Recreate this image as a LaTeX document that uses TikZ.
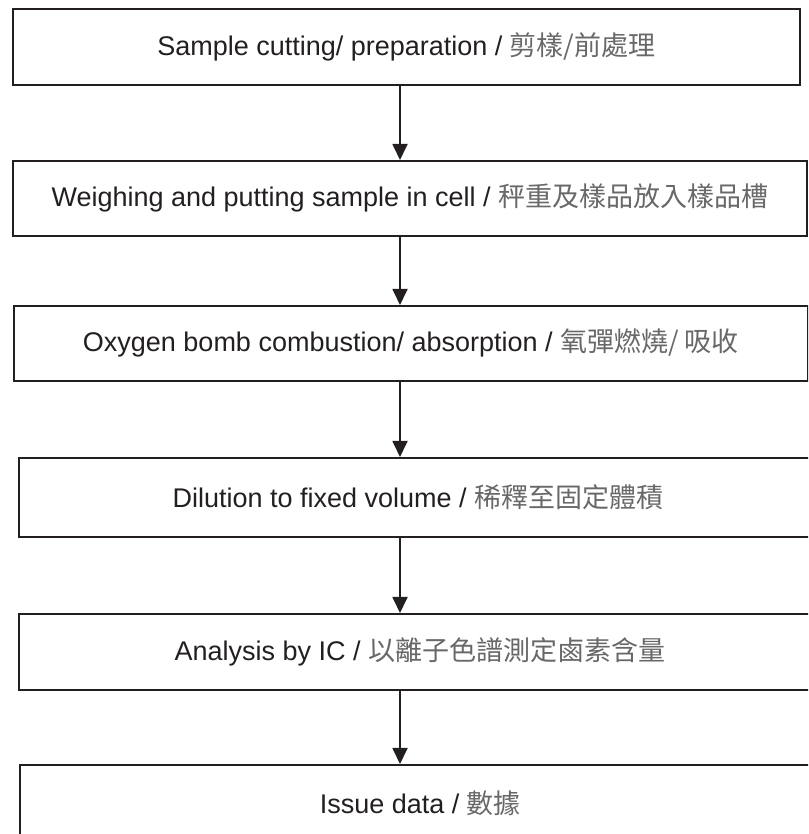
\documentclass[tikz,border=0pt]{standalone}
\usepackage{fontspec}
\setmainfont{Liberation Sans}
\newfontfamily\cjk{Noto Sans CJK TC}
\usetikzlibrary{arrows.meta,positioning}
\definecolor{inkline}{HTML}{231F20}
\colorlet{cjktext}{inkline!68}
\newcommand\twtext[1]{{\cjk\color{cjktext}#1}}

\begin{document}
\begin{tikzpicture}[
  x=1pt,y=1pt,
  stepbox/.style={
    draw=inkline,
    line width=1.8pt,
    inner sep=0,
    anchor=north west,
    minimum height=76pt,
    text=inkline,
    font=\fontsize{27}{32}\selectfont
  },
  flow/.style={draw=inkline,line width=1.8pt,-{Triangle[length=16pt,width=15pt]}}
]
\path[use as bounding box,clip] (0,0) rectangle (808,834);

\node[stepbox,minimum width=787pt] (cut) at (12,826)
  {Sample cutting/ preparation / \twtext{剪樣/前處理}};
\node[stepbox,minimum width=794pt,minimum height=75pt] (weigh) at (12,674)
  {Weighing and putting sample in cell / \twtext{秤重及樣品放入樣品槽}};
\node[stepbox,minimum width=794pt,minimum height=75pt] (bomb) at (13,529)
  {Oxygen bomb combustion/ absorption / \twtext{氧彈燃燒/ 吸收}};
\node[stepbox,minimum width=798pt,minimum height=79pt] (dilute) at (18,377)
  {Dilution to fixed volume / \twtext{稀釋至固定體積}};
\node[stepbox,minimum width=802pt] (ic) at (18,221)
  {Analysis by IC / \twtext{以離子色譜測定鹵素含量}};
\node[stepbox,minimum width=801pt] (issue) at (19,70)
  {Issue data / \twtext{數據}};

\coordinate (axis) at (400,0);

\draw[flow] (cut.south -| axis) -- (weigh.north -| axis);
\draw[flow] (weigh.south -| axis) -- (bomb.north -| axis);
\draw[flow] (bomb.south -| axis) -- (dilute.north -| axis);
\draw[flow] (dilute.south -| axis) -- (ic.north -| axis);
\draw[flow] (ic.south -| axis) -- (issue.north -| axis);

\end{tikzpicture}
\end{document}
